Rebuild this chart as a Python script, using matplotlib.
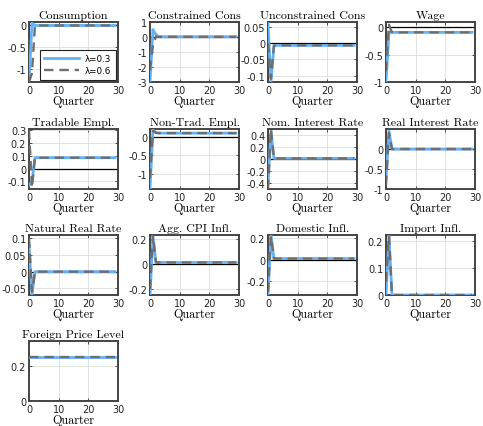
import matplotlib
matplotlib.use("Agg")
import matplotlib.pyplot as plt
import numpy as np

quarters = list(range(30))

titles = ["Consumption", "Constrained Cons", "Unconstrained Cons", "Wage",
          "Tradable Empl.", "Non-Trad. Empl.", "Nom. Interest Rate", "Real Interest Rate",
          "Natural Real Rate", "Agg. CPI Infl.", "Domestic Infl.", "Import Infl.",
          "Foreign Price Level"]

legend_labels = ["λ=0.3", "λ=0.6"]

def tail(v, n=27):
    return [v] * n

# λ=0.3 (blue solid)
cons_lo = [-1.30, 0.05, 0.0] + tail(0.0)
ccons_lo = [-3.00, 0.50, 0.15] + tail(0.02)
ucons_lo = [0.060, -0.120, -0.008] + tail(-0.007)
wage_lo = [-1.00, -0.08, -0.09] + tail(-0.09)
tremp_lo = [-0.13, -0.10, 0.085] + tail(0.085)
ntemp_lo = [-1.40, 0.18, 0.10] + tail(0.09)
nomr_lo = [-0.42, 0.46, 0.01] + tail(0.01)
realr_lo = [-0.75, 0.45, 0.0] + tail(0.0)
natr_lo = [0.08, -0.07, 0.0] + tail(0.0)
cpi_lo = [-0.25, 0.22, 0.01] + tail(0.01)
dom_lo = [-0.33, 0.23, 0.01] + tail(0.01)
imp_lo = [0.0, 0.22, 0.0] + tail(0.0)
fpl_lo = [0.25, 0.25, 0.25] + tail(0.25)

# λ=0.6 (gray dashed)
cons_hi = [-1.30, -1.10, 0.0] + tail(0.0)
ccons_hi = [-2.20, -0.50, 0.02] + tail(0.01)
ucons_hi = [0.0, -0.110, -0.008] + tail(-0.007)
wage_hi = [-0.80, 0.05, -0.09] + tail(-0.09)
tremp_hi = [0.30, -0.15, 0.085] + tail(0.085)
ntemp_hi = [-1.10, 0.15, 0.10] + tail(0.09)
nomr_hi = [-0.50, 0.50, 0.01] + tail(0.01)
realr_hi = [-0.90, 0.40, 0.0] + tail(0.0)
natr_hi = [0.10, -0.06, 0.0] + tail(0.0)
cpi_hi = [-0.20, 0.23, 0.01] + tail(0.01)
dom_hi = [-0.30, 0.22, 0.01] + tail(0.01)
imp_hi = [0.05, 0.22, 0.0] + tail(0.0)
fpl_hi = [0.25, 0.25, 0.25] + tail(0.25)

series_lo = [cons_lo, ccons_lo, ucons_lo, wage_lo, tremp_lo, ntemp_lo, nomr_lo,
             realr_lo, natr_lo, cpi_lo, dom_lo, imp_lo, fpl_lo]
series_hi = [cons_hi, ccons_hi, ucons_hi, wage_hi, tremp_hi, ntemp_hi, nomr_hi,
             realr_hi, natr_hi, cpi_hi, dom_hi, imp_hi, fpl_hi]

ylims = [(-1.3, 0.08), (-3, 1), (-0.12, 0.065), (-1, 0.1),
         (-0.16, 0.31), (-1.4, 0.2), (-0.5, 0.5), (-1, 0.5),
         (-0.07, 0.11), (-0.25, 0.23), (-0.33, 0.23), (0, 0.222),
         (0, 0.34)]
yticks = [[-1, -0.5, 0], [-3, -2, -1, 0, 1], [-0.1, -0.05, 0, 0.05], [-1, -0.5, 0],
          [-0.1, 0, 0.1, 0.2, 0.3], [-1, -0.5, 0], [-0.4, -0.2, 0, 0.2, 0.4], [-1, -0.5, 0],
          [-0.05, 0, 0.05, 0.1], [-0.2, 0, 0.2], [-0.2, 0, 0.2], [0, 0.1, 0.2],
          [0, 0.2]]
xticks = [0, 10, 20, 30]

W, H = 483, 427
col_left = [29, 150, 268, 386]
row_top = [23, 130, 236, 342]
aw, ah = 89, 60

fig = plt.figure(figsize=(W / 100, H / 100), dpi=100)
serif = "cmr10"
blue = "#62b0f7"
gray = "#6e6e6e"
frame = "#444444"

for i, title in enumerate(titles):
    r, c = divmod(i, 4)
    ax = fig.add_axes([col_left[c] / W, 1 - (row_top[r] + ah) / H, aw / W, ah / H])
    ax.axhline(0, color="black", lw=0.9, zorder=2)
    ax.plot(quarters, series_lo[i], color=blue, lw=2.0, zorder=3, label=legend_labels[0])
    ax.plot(quarters, series_hi[i], color=gray, lw=1.7, ls=(0, (4, 2.5)), zorder=4,
            label=legend_labels[1])
    ax.set_xlim(0, 30)
    ax.set_ylim(*ylims[i])
    ax.set_xticks(xticks)
    ax.set_yticks(yticks[i])
    ax.set_yticklabels([f"{t:g}" for t in yticks[i]])
    ax.grid(True, color="#dddddd", lw=0.6)
    ax.set_axisbelow(True)
    ax.tick_params(direction="in", length=2, width=0.6, labelsize=7, pad=2,
                   top=True, right=True, colors="#333333", labelcolor="#222222")
    for sp in ax.spines.values():
        sp.set_color(frame)
        sp.set_linewidth(1.4)
    ax.set_title(title, fontfamily=serif, fontsize=8.6, pad=3)
    ax.set_xlabel("Quarter", fontfamily=serif, fontsize=8.8, labelpad=0)
    if i == 0:
        leg = ax.legend(loc="lower right", fontsize=6.3, frameon=True, fancybox=False,
                        edgecolor="#222222", framealpha=1, handlelength=4.0,
                        borderpad=0.5, labelspacing=0.4, handletextpad=0.7,
                        borderaxespad=0.25)
        leg.get_frame().set_linewidth(0.8)

fig.savefig("out.png", dpi=100)
